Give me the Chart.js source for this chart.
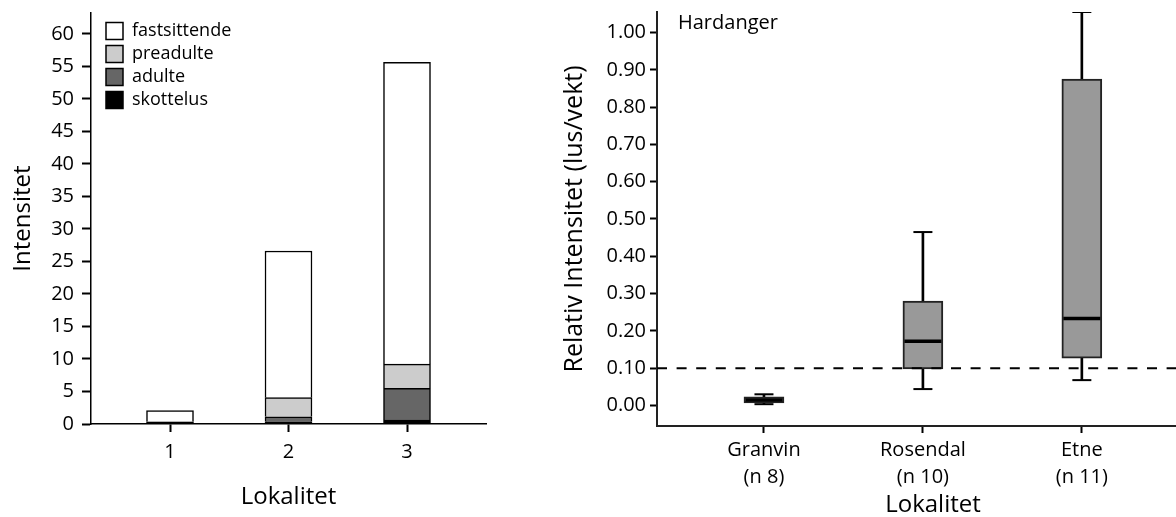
<!DOCTYPE html>
<html>
<head>
<meta charset="utf-8">
<script src="https://cdn.jsdelivr.net/npm/chart.js@4.4.0/dist/chart.umd.min.js"></script>
<style>
  html, body { margin: 0; padding: 0; background: #fff; overflow: hidden; width: 1176px; height: 517px; }
  #venstre { position: absolute; left: 0; top: 0; }
  #hoyre { position: absolute; left: 560px; top: 0; }
</style>
</head>
<body>
<canvas id="venstre" width="560" height="517"></canvas>
<canvas id="hoyre" width="649" height="517"></canvas>
<script>
'use strict';

// venstre figur: stablede søyler per lokalitet
var lokaliteter = ['1', '2', '3'];
var skottelus = [0.25, 0.35, 0.6];
var adulte = [0.05, 0.75, 4.9];
var preadulte = [0.05, 2.95, 3.7];
var fastsittende = [1.7, 22.55, 46.4];
var intensitetTicks = [0, 5, 10, 15, 20, 25, 30, 35, 40, 45, 50, 55, 60];

// høyre figur: boksplott relativ intensitet
var steder = [['Granvin', '(n 8)'], ['Rosendal', '(n 10)'], ['Etne', '(n 11)']];
var boksMin = [0.0035, 0.044, 0.068];
var boksQ1 = [0.007, 0.098, 0.127];
var boksMedian = [0.015, 0.172, 0.233];
var boksQ3 = [0.023, 0.280, 0.875];
var boksMax = [0.030, 0.465, 1.055];
var terskel = 0.10;
var relTicks = [0, 0.1, 0.2, 0.3, 0.4, 0.5, 0.6, 0.7, 0.8, 0.9, 1.0];

Chart.defaults.font.family = '"Open Sans", sans-serif';
Chart.defaults.color = '#000';

function punkter(verdier) {
  return verdier.map(function(v, i) { return {x: i + 1, y: v}; });
}

function fastBredde(w) {
  return function(s) { s.width = w; s.paddingTop = 0; s.paddingBottom = 0; };
}
function fastHoyde(h) {
  return function(s) { s.height = h; s.paddingLeft = 0; s.paddingRight = 0; };
}

// flytter legenden litt inn i plottet
var flyttLegende = {
  id: 'flyttLegende',
  afterLayout: function(chart) {
    chart.legend.left += 10;
    chart.legend.top += 17;
  }
};

new Chart(document.getElementById('venstre'), {
  type: 'bar',
  data: {
    datasets: [
      {label: 'skottelus', data: punkter(skottelus), backgroundColor: '#000000'},
      {label: 'adulte', data: punkter(adulte), backgroundColor: '#666666'},
      {label: 'preadulte', data: punkter(preadulte), backgroundColor: '#cccccc'},
      {label: 'fastsittende', data: punkter(fastsittende), backgroundColor: '#ffffff'}
    ]
  },
  options: {
    responsive: false,
    animation: false,
    layout: {autoPadding: false, padding: {top: 13, right: 74, left: 0, bottom: 0}},
    datasets: {bar: {barThickness: 47, borderColor: '#000', borderWidth: 1.5, grouped: false}},
    plugins: {
      tooltip: {enabled: false},
      legend: {
        position: 'chartArea',
        align: 'start',
        reverse: true,
        labels: {boxWidth: 17, boxHeight: 17, padding: 5, font: {size: 18}, color: '#000'}
      }
    },
    scales: {
      x: {
        type: 'linear',
        offset: false,
        min: 1 / 3,
        max: 11 / 3,
        afterBuildTicks: function(s) { s.ticks = lokaliteter.map(function(l, i) { return {value: i + 1}; }); },
        afterFit: fastHoyde(93),
        ticks: {
          autoSkip: false, maxRotation: 0, padding: 8, font: {size: 20},
          callback: function(v) { return lokaliteter[v - 1]; }
        },
        grid: {offset: false, drawOnChartArea: false, tickLength: 8, tickWidth: 2, tickColor: '#000'},
        border: {color: '#000', width: 1.5},
        title: {display: true, text: 'Lokalitet', font: {size: 24}, padding: {top: 0, bottom: 5}}
      },
      y: {
        stacked: true,
        min: 0,
        max: 63.2,
        afterBuildTicks: function(s) { s.ticks = intensitetTicks.map(function(v) { return {value: v}; }); },
        afterFit: fastBredde(91),
        ticks: {padding: 8, font: {size: 20}},
        grid: {drawOnChartArea: false, tickLength: 9, tickWidth: 2, tickColor: '#000'},
        border: {color: '#000', width: 1.5},
        title: {display: true, text: 'Intensitet', font: {size: 24}, padding: {top: 9, bottom: 0}}
      }
    }
  },
  plugins: [flyttLegende]
});

var xMin = 0.327;
var xMax = 3.8;

var stedTekst = {
  id: 'stedTekst',
  afterDraw: function(chart) {
    var ctx = chart.ctx;
    ctx.save();
    ctx.font = '20px "Open Sans", sans-serif';
    ctx.fillStyle = '#000';
    ctx.textBaseline = 'middle';
    ctx.fillText('Hardanger', chart.chartArea.left + 21, 23);
    ctx.restore();
  }
};

new Chart(document.getElementById('hoyre'), {
  type: 'bar',
  data: {
    datasets: [
      {
        type: 'line', label: 'terskel',
        data: [{x: xMin, y: terskel}, {x: xMax, y: terskel}],
        borderColor: '#000', borderWidth: 2, borderDash: [10, 9.6], pointRadius: 0, order: 0
      },
      {
        type: 'scatter', label: 'median', data: punkter(boksMedian),
        pointStyle: 'line', pointRadius: 18.5, pointBorderWidth: 3.5, pointBorderColor: '#000', order: 1
      },
      {
        type: 'scatter', label: 'ender', data: punkter(boksMin).concat(punkter(boksMax)),
        pointStyle: 'line', pointRadius: 9.5, pointBorderWidth: 2, pointBorderColor: '#000', order: 1
      },
      {
        label: 'boks',
        data: boksQ1.map(function(q, i) { return {x: i + 1, y: [q, boksQ3[i]]}; }),
        barThickness: 40, backgroundColor: '#999999', borderColor: '#222222', borderWidth: 2,
        borderSkipped: false, grouped: false, order: 2
      },
      {
        label: 'whisker',
        data: boksMin.map(function(m, i) { return {x: i + 1, y: [m, boksMax[i]]}; }),
        barThickness: 2, backgroundColor: '#000', borderWidth: 0, grouped: false, order: 3
      }
    ]
  },
  options: {
    responsive: false,
    animation: false,
    layout: {autoPadding: false, padding: {top: 12, right: 0, left: 0, bottom: 0}},
    plugins: {legend: {display: false}, tooltip: {enabled: false}},
    scales: {
      x: {
        type: 'linear',
        offset: false,
        min: xMin,
        max: xMax,
        afterBuildTicks: function(s) { s.ticks = steder.map(function(l, i) { return {value: i + 1}; }); },
        afterFit: fastHoyde(91),
        ticks: {
          autoSkip: false, maxRotation: 0, padding: 4, font: {size: 20, lineHeight: 1.35},
          callback: function(v) { return steder[v - 1]; }
        },
        grid: {offset: false, drawOnChartArea: false, tickLength: 7, tickWidth: 2, tickColor: '#000'},
        border: {color: '#222', width: 2},
        title: {display: true, text: 'Lokalitet', font: {size: 24, lineHeight: 1}, padding: 0}
      },
      y: {
        min: -0.055,
        max: 1.055,
        afterBuildTicks: function(s) { s.ticks = relTicks.map(function(v) { return {value: v}; }); },
        afterFit: fastBredde(97),
        ticks: {padding: 4, font: {size: 20}, callback: function(v) { return v.toFixed(2); }},
        grid: {drawOnChartArea: false, tickLength: 7, tickWidth: 2, tickColor: '#000'},
        border: {color: '#222', width: 2},
        title: {display: true, text: 'Relativ Intensitet (lus/vekt)', font: {size: 25}, padding: 0}
      }
    }
  },
  plugins: [stedTekst]
});
</script>
</body>
</html>
